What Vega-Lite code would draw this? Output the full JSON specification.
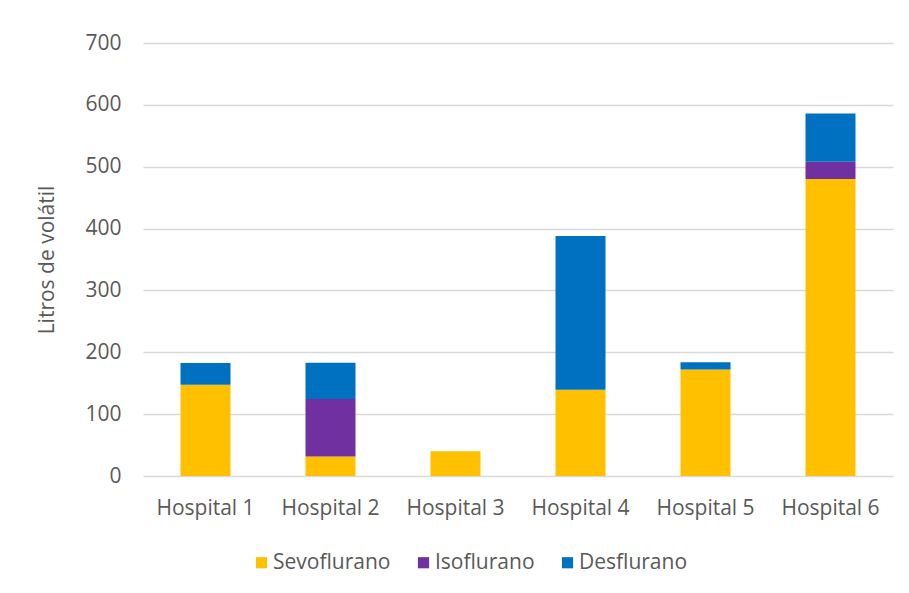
{
  "$schema": "https://vega.github.io/schema/vega-lite/v6.json",
  "width": 750,
  "height": 433,
  "autosize": {"type": "none"},
  "padding": {"left": 143, "top": 43, "right": 16, "bottom": 117},
  "background": "white",
  "config": {
    "view": {"stroke": null},
    "font": "Open Sans"
  },
  "data": {
    "values": [
      {"hospital": "Hospital 1", "agent": "Sevoflurano", "litros": 147.5, "ord": 1},
      {"hospital": "Hospital 1", "agent": "Desflurano", "litros": 35, "ord": 3},
      {"hospital": "Hospital 2", "agent": "Sevoflurano", "litros": 31.5, "ord": 1},
      {"hospital": "Hospital 2", "agent": "Isoflurano", "litros": 93, "ord": 2},
      {"hospital": "Hospital 2", "agent": "Desflurano", "litros": 58.5, "ord": 3},
      {"hospital": "Hospital 3", "agent": "Sevoflurano", "litros": 40, "ord": 1},
      {"hospital": "Hospital 4", "agent": "Sevoflurano", "litros": 139.5, "ord": 1},
      {"hospital": "Hospital 4", "agent": "Desflurano", "litros": 248.5, "ord": 3},
      {"hospital": "Hospital 5", "agent": "Sevoflurano", "litros": 172, "ord": 1},
      {"hospital": "Hospital 5", "agent": "Desflurano", "litros": 12, "ord": 3},
      {"hospital": "Hospital 6", "agent": "Sevoflurano", "litros": 480, "ord": 1},
      {"hospital": "Hospital 6", "agent": "Isoflurano", "litros": 28, "ord": 2},
      {"hospital": "Hospital 6", "agent": "Desflurano", "litros": 78, "ord": 3}
    ]
  },
  "mark": {"type": "bar"},
  "encoding": {
    "x": {
      "field": "hospital",
      "type": "nominal",
      "scale": {"paddingInner": 0.6, "paddingOuter": 0.3},
      "axis": {
        "title": null,
        "labelAngle": 0,
        "labelFontSize": 21,
        "labelColor": "#595959",
        "labelPadding": 21,
        "ticks": false,
        "domain": false
      }
    },
    "y": {
      "field": "litros",
      "type": "quantitative",
      "stack": "zero",
      "scale": {"domain": [0, 700], "nice": false},
      "axis": {
        "title": "Litros de volátil",
        "titleFontSize": 21,
        "titleFontWeight": "normal",
        "titleColor": "#595959",
        "titlePadding": 27,
        "values": [0, 100, 200, 300, 400, 500, 600, 700],
        "labelFontSize": 21,
        "labelColor": "#595959",
        "labelPadding": 22,
        "ticks": false,
        "domain": false,
        "gridColor": "#d9d9d9",
        "gridWidth": 1.5
      }
    },
    "color": {
      "field": "agent",
      "type": "nominal",
      "scale": {
        "domain": ["Sevoflurano", "Isoflurano", "Desflurano"],
        "range": ["#ffc000", "#7030a0", "#0070c0"]
      },
      "legend": {
        "title": null,
        "orient": "none",
        "direction": "horizontal",
        "legendX": 108,
        "legendY": 509,
        "symbolType": "square",
        "symbolSize": 125,
        "symbolStrokeWidth": 0,
        "labelFontSize": 21,
        "labelColor": "#595959",
        "columnPadding": 22,
        "labelOffset": 1
      }
    },
    "order": {"field": "ord", "type": "quantitative"}
  }
}
